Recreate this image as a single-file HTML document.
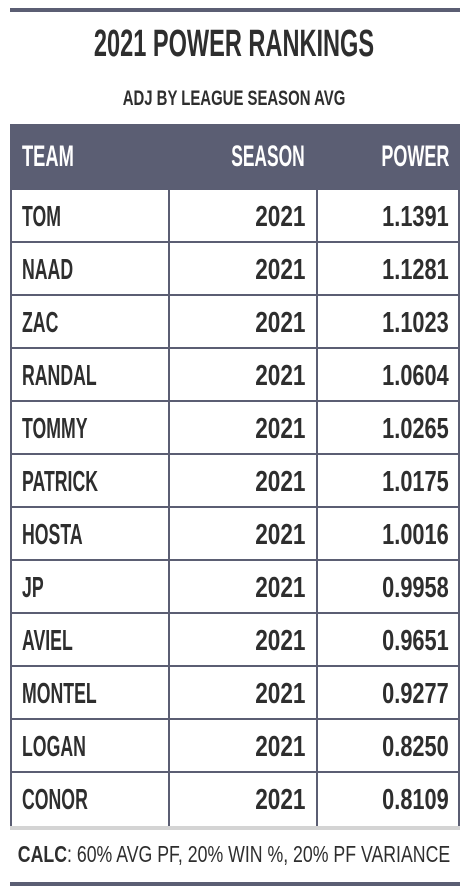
<!DOCTYPE html>
<html><head><meta charset="utf-8">
<style>
body{margin:0;width:468px;height:894px;background:#fff;position:relative;overflow:hidden;font-family:"Liberation Sans",sans-serif;font-weight:bold;color:#2e2e2e}
.bar{position:absolute;left:10px;width:450px;background:#5b5e73}
.t{position:absolute;white-space:nowrap;line-height:1}
.c{left:234px}
#title{top:25px;font-size:38px;transform:translateX(-50%) scaleX(0.62)}
#sub{top:88px;font-size:21px;transform:translateX(-50%) scaleX(0.71)}
#hdr{position:absolute;left:10px;top:124px;width:450px;height:66px;background:#5b5e73;color:#fff}
#hdr .t{top:18px;font-size:30px}
.cell{position:absolute;font-size:29px;line-height:1;white-space:nowrap}
#foot{top:843px;font-size:23px;font-weight:normal;transform:translateX(-50%) scaleX(0.77)}
</style></head><body>
<div class="bar" style="top:8px;height:4px"></div>
<div class="t c" id="title">2021 POWER RANKINGS</div>
<div class="t c" id="sub">ADJ BY LEAGUE SEASON AVG</div>
<div id="hdr">
 <div class="t" style="left:12px;transform:scaleX(0.61);transform-origin:left">TEAM</div>
 <div class="t" style="right:155px;transform:scaleX(0.58);transform-origin:right">SEASON</div>
 <div class="t" style="right:11px;transform:scaleX(0.6);transform-origin:right">POWER</div>
</div>
<div id="rows"></div>
<div style="position:absolute;left:10px;top:826px;width:450px;height:4px;background:#d4d4d4"></div>
<div class="t c" id="foot"><b>CALC</b>: 60% AVG PF, 20% WIN %, 20% PF VARIANCE</div>
<div class="bar" style="top:882px;height:4px"></div>
<script>
const teams=["TOM","NAAD","ZAC","RANDAL","TOMMY","PATRICK","HOSTA","JP","AVIEL","MONTEL","LOGAN","CONOR"];
const seasons=["2021","2021","2021","2021","2021","2021","2021","2021","2021","2021","2021","2021"];
const powers=["1.1391","1.1281","1.1023","1.0604","1.0265","1.0175","1.0016","0.9958","0.9651","0.9277","0.8250","0.8109"];
const rows=document.getElementById('rows');
const top0=190,rh=53;
teams.forEach((tm,i)=>{
  const r=document.createElement('div');
  
  
  r.style.cssText=`position:absolute;left:10px;top:${top0+i*rh}px;width:450px;height:${rh}px;box-sizing:border-box;border-left:2px solid #5b5e73;border-right:2px solid #5b5e73;${i<teams.length-1?'border-bottom:2px solid #5b5e73;':''}`;
  const d1=document.createElement('div');
  
  
  d1.style.cssText='position:absolute;left:156px;top:0;bottom:0;width:2px;background:#5b5e73';
  const d2=document.createElement('div');
  
  
  d2.style.cssText='position:absolute;left:304px;top:0;bottom:0;width:2px;background:#5b5e73';
  r.appendChild(d1);r.appendChild(d2);
  const a=document.createElement('div');a.className='cell';a.textContent=tm;
  
  
  a.style.cssText+='left:10px;top:13px;transform:scaleX(0.61);transform-origin:left';
  const b=document.createElement('div');b.className='cell';b.textContent=seasons[i];
  
  
  b.style.cssText+='right:152px;top:13px;transform:scaleX(0.78);transform-origin:right';
  const c=document.createElement('div');c.className='cell';c.textContent=powers[i];
  
  
  c.style.cssText+='right:9px;top:13px;transform:scaleX(0.75);transform-origin:right';
  r.appendChild(a);r.appendChild(b);r.appendChild(c);
  rows.appendChild(r);
});
</script>
</body></html>
